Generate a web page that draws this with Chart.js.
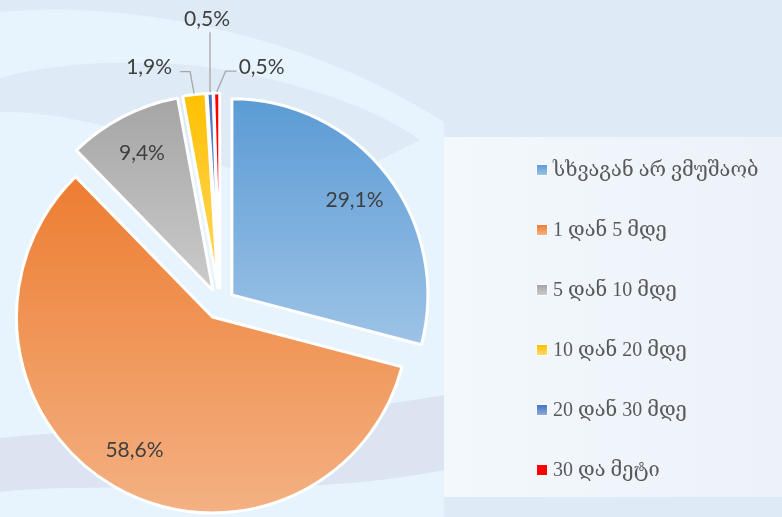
<!DOCTYPE html>
<html>
<head>
<meta charset="utf-8">
<script src="https://cdn.jsdelivr.net/npm/chart.js@4.4.1/dist/chart.umd.min.js"></script>
<style>
  html, body { margin: 0; padding: 0; background: #deeaf6; }
  #wrap { position: relative; width: 782px; height: 517px; }
</style>
</head>
<body>
<div id="wrap"><canvas id="myChart" width="782" height="517"></canvas></div>
<script>
const categories = ['სხვაგან არ ვმუშაობ', '1 დან 5 მდე', '5 დან 10 მდე', '10 დან 20 მდე', '20 დან 30 მდე', '30 და მეტი'];
const shares = [29.1, 58.6, 9.4, 1.9, 0.5, 0.5];
const topColors = ['#5b9bd5', '#ed7d31', '#a5a5a5', '#ffc000', '#4472c4', '#ff0000'];
const bottomColors = ['#9dc3e6', '#f4b183', '#cbcbcb', '#ffd966', '#8faadc', '#ff0000'];

const explode = 15; // every slice pulled out by this many px

// leader lines for the thin slices: elbow offset from slice edge, then a flat run
const leaders = {
    3: { dx: -4, dy: -22, run: -10, align: 'right', gap: 8 },
    4: { dx: 0, dy: -60, run: 0, align: 'center', gap: 0 },
    5: { dx: 9, dy: -21, run: 11, align: 'left', gap: 2 },
};

const fmt = (v) => v.toFixed(1).replace('.', ',') + '%';

const background = {
    id: 'background',
    beforeDraw(chart) {
        const ctx = chart.ctx;
        ctx.save();
        ctx.fillStyle = '#deeaf6';
        ctx.fillRect(0, 0, chart.width, chart.height);
        // light swoosh left of the legend
        ctx.fillStyle = '#e8f4fd';
        ctx.beginPath();
        ctx.moveTo(0, 12);
        ctx.bezierCurveTo(120, 0, 300, 30, 444, 122);
        ctx.lineTo(444, 517);
        ctx.lineTo(0, 517);
        ctx.closePath();
        ctx.fill();
        // darker band under the top swoosh
        ctx.fillStyle = '#deeaf6';
        ctx.beginPath();
        ctx.moveTo(0, 78);
        ctx.bezierCurveTo(50, 64, 120, 58, 200, 66);
        ctx.bezierCurveTo(300, 80, 380, 110, 420, 140);
        ctx.lineTo(300, 200);
        ctx.bezierCurveTo(200, 150, 80, 110, 0, 112);
        ctx.closePath();
        ctx.fill();
        // lavender band near the bottom
        ctx.fillStyle = '#dce4f1';
        ctx.beginPath();
        ctx.moveTo(0, 438);
        ctx.bezierCurveTo(120, 426, 300, 420, 444, 395);
        ctx.lineTo(444, 470);
        ctx.bezierCurveTo(300, 500, 120, 480, 0, 492);
        ctx.closePath();
        ctx.fill();
        // legend panel
        const g = ctx.createLinearGradient(444, 0, 782, 0);
        g.addColorStop(0, '#f3f8fd');
        g.addColorStop(1, '#edf2f9');
        ctx.fillStyle = g;
        ctx.fillRect(444, 137, 338, 360);
        ctx.restore();
    }
};

const explodeSlices = {
    id: 'explodeSlices',
    beforeDatasetsDraw(chart) {
        const ctx = chart.ctx;
        const {left, right, top, bottom} = chart.chartArea;
        const x0 = (left + right) / 2, y0 = (top + bottom) / 2;
        chart.getDatasetMeta(0).data.forEach((arc, i) => {
            const mid = (arc.startAngle + arc.endAngle) / 2;
            arc.x = x0 + Math.cos(mid) * explode;
            arc.y = y0 + Math.sin(mid) * explode;
            let ymin = arc.y, ymax = arc.y;
            for (let k = 0; k <= 60; k++) {
                const a = arc.startAngle + (arc.endAngle - arc.startAngle) * k / 60;
                const py = arc.y + Math.sin(a) * arc.outerRadius;
                ymin = Math.min(ymin, py);
                ymax = Math.max(ymax, py);
            }
            const g = ctx.createLinearGradient(0, ymin, 0, ymax);
            g.addColorStop(0, topColors[i]);
            g.addColorStop(1, bottomColors[i]);
            arc.options.backgroundColor = g;
        });
    }
};

const sliceLabels = {
    id: 'sliceLabels',
    afterDatasetsDraw(chart) {
        const ctx = chart.ctx;
        const values = chart.data.datasets[0].data;
        ctx.save();
        ctx.font = '21px Lato';
        ctx.fillStyle = '#404040';
        ctx.textBaseline = 'middle';
        chart.getDatasetMeta(0).data.forEach((arc, i) => {
            const mid = (arc.startAngle + arc.endAngle) / 2;
            const R = arc.outerRadius;
            const text = fmt(values[i]);
            const lead = leaders[i];
            if (!lead) {
                const r = R * 0.79;
                ctx.textAlign = 'center';
                ctx.fillText(text, arc.x + Math.cos(mid) * r, arc.y + Math.sin(mid) * r);
                return;
            }
            const ex = arc.x + Math.cos(mid) * (R + 1);
            const ey = arc.y + Math.sin(mid) * (R + 1);
            const kx = ex + lead.dx, ky = ey + lead.dy;
            const lx = kx + lead.run;
            ctx.strokeStyle = '#a6a6a6';
            ctx.lineWidth = 1.3;
            ctx.beginPath();
            ctx.moveTo(ex, ey);
            ctx.lineTo(kx, ky);
            ctx.lineTo(lx, ky);
            ctx.stroke();
            ctx.textAlign = lead.align;
            if (lead.align === 'center') {
                ctx.fillText(text, lx - 3, ky - 13);
            } else if (lead.align === 'right') {
                ctx.fillText(text, lx - lead.gap, ky - 4);
            } else {
                ctx.fillText(text, lx + lead.gap, ky - 4);
            }
        });
        ctx.restore();
    }
};

const sideLegend = {
    id: 'sideLegend',
    afterDraw(chart) {
        const ctx = chart.ctx;
        ctx.save();
        ctx.font = '20px "Liberation Serif", "DejaVu Serif"';
        ctx.textBaseline = 'middle';
        ctx.textAlign = 'left';
        chart.data.labels.forEach((label, i) => {
            const y = 170 + i * 60;
            ctx.fillStyle = '#ffffff';
            ctx.fillRect(536, y - 6, 12, 12);
            const g = ctx.createLinearGradient(0, y - 5, 0, y + 5);
            g.addColorStop(0, topColors[i]);
            g.addColorStop(1, bottomColors[i]);
            ctx.fillStyle = g;
            ctx.fillRect(537, y - 5, 10, 10);
            ctx.fillStyle = '#595959';
            ctx.fillText(label, 553, y + 1);
        });
        ctx.restore();
    }
};

let ctx = document.getElementById('myChart').getContext('2d');

new Chart(ctx, {
    type: 'pie',
    data: {
        labels: categories,
        datasets: [
            {
                data: shares,
                backgroundColor: topColors,
                borderColor: '#ffffff',
                borderWidth: 3,
            },
        ],
    },
    options: {
        responsive: false,
        animation: false,
        radius: 196,
        layout: {
            padding: { left: 0, right: 342, top: 91, bottom: 0 },
        },
        plugins: {
            legend: { display: false },
            tooltip: { enabled: false },
        },
        events: [],
    },
    plugins: [background, explodeSlices, sliceLabels, sideLegend],
});
</script>
</body>
</html>
